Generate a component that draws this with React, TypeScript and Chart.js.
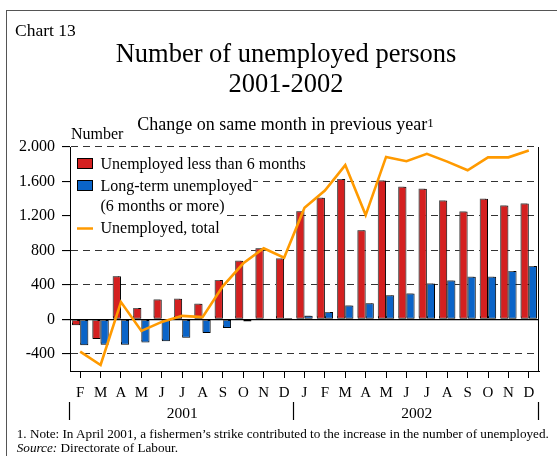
import React, { useEffect, useRef } from 'react';
import { Chart, registerables } from 'chart.js';

Chart.register(...registerables);

// ---------- data ----------
const months = ['F', 'M', 'A', 'M', 'J', 'J', 'A', 'S', 'O', 'N', 'D', 'J', 'F', 'M', 'A', 'M', 'J', 'J', 'A', 'S', 'O', 'N', 'D'];
const years = ['2001', '2002'];
const monthsPerYear = [11, 12];
const shortTerm = [-70, -230, 500, 130, 230, 240, 180, 455, 680, 825, 705, 1255, 1410, 1630, 1035, 1610, 1540, 1515, 1380, 1250, 1400, 1320, 1345];
const longTerm = [-300, -295, -295, -270, -255, -215, -160, -100, -25, 5, 15, 40, 85, 160, 185, 280, 300, 415, 450, 495, 495, 560, 620];
const totalUnemployed = [-375, -530, 200, -135, -30, 40, 25, 385, 650, 825, 715, 1295, 1495, 1790, 1210, 1885, 1835, 1920, 1830, 1730, 1880, 1880, 1960];
const yTickValues = [-400, 0, 400, 800, 1200, 1600, 2000];
const yMin = -600;
const yMax = 2000;
const seriesNames = ['Unemployed less than 6 months', 'Long-term unemployed\n(6 months or more)', 'Unemployed, total'];
const seriesColors = ['#D42020', '#0A64C8', '#FF9A00'];

const SERIF = '"Liberation Serif", "Times New Roman", serif';

function fmtThousands(v: number): string {
  const s = String(Math.abs(Math.round(v))).replace(/\B(?=(\d{3})+(?!\d))/g, '.');
  return (v < 0 ? '-' : '') + s;
}

const barShadow = {
  id: 'barShadow',
  beforeDatasetDraw(chart: any, args: any) {
    if (args.meta.type !== 'bar') return;
    const c = chart.ctx;
    c.save();
    c.shadowColor = 'rgba(110,110,110,0.9)';
    c.shadowOffsetX = -2;
    c.shadowOffsetY = -1.5;
    c.shadowBlur = 0;
  },
  afterDatasetDraw(chart: any, args: any) {
    if (args.meta.type !== 'bar') return;
    chart.ctx.restore();
  },
};

const decorations = {
  id: 'decorations',
  afterDatasetsDraw(chart: any) {
    const { ctx, chartArea } = chart;
    const { left, top, right, bottom } = chartArea;
    ctx.save();
    // right border of plot
    ctx.strokeStyle = '#000';
    ctx.lineWidth = 1;
    ctx.beginPath();
    ctx.moveTo(Math.round(right) - 0.5, top);
    ctx.lineTo(Math.round(right) - 0.5, bottom);
    ctx.stroke();

    // legend
    const font = `16px ${SERIF}`;
    ctx.font = font;
    ctx.textBaseline = 'alphabetic';
    ctx.textAlign = 'left';
    const textX = left + 30.5;
    let baseline = top + 22;
    chart.data.datasets.forEach((ds: any) => {
      const lines = String(ds.label).split('\n');
      lines.forEach((ln: string, j: number) => {
        const b = baseline + j * 19.5;
        const w = ctx.measureText(ln).width;
        ctx.fillStyle = '#fff';
        ctx.fillRect(left + 1, b - 17, textX - left - 1 + w + 1, 23.5);
      });
      if (ds.type === 'line') {
        ctx.strokeStyle = ds.borderColor;
        ctx.lineWidth = 2.5;
        ctx.beginPath();
        ctx.moveTo(left + 7, baseline - 4);
        ctx.lineTo(left + 23, baseline - 4);
        ctx.stroke();
      } else {
        ctx.fillStyle = ds.backgroundColor;
        ctx.fillRect(left + 7.5, baseline - 10.5, 15, 10);
        ctx.strokeStyle = '#000';
        ctx.lineWidth = 1;
        ctx.strokeRect(left + 7.5, baseline - 10.5, 15, 10);
      }
      ctx.fillStyle = '#000';
      lines.forEach((ln: string, j: number) => {
        ctx.fillText(ln, textX, baseline + j * 19.5);
      });
      baseline += (lines.length - 1) * 19.5 + 22;
    });

    // year labels + separators
    const xs = chart.scales.x;
    const step = xs.getPixelForValue(1) - xs.getPixelForValue(0);
    let startIdx = 0;
    const bounds: number[] = [xs.getPixelForValue(0) - step / 2];
    years.forEach((yr, k) => {
      const endIdx = startIdx + monthsPerYear[k] - 1;
      const x0 = xs.getPixelForValue(startIdx) - step / 2;
      const x1 = xs.getPixelForValue(endIdx) + step / 2;
      bounds.push(x1);
      ctx.fillStyle = '#000';
      ctx.font = `15.5px ${SERIF}`;
      ctx.textAlign = 'center';
      ctx.fillText(yr, (x0 + x1) / 2, bottom + 46.7);
      startIdx = endIdx + 1;
    });
    ctx.strokeStyle = '#000';
    ctx.lineWidth = 1.2;
    bounds.forEach((bx) => {
      ctx.beginPath();
      ctx.moveTo(Math.round(bx) - 0.5, bottom + 31);
      ctx.lineTo(Math.round(bx) - 0.5, bottom + 49);
      ctx.stroke();
    });
    ctx.restore();
  },
};

const textBase: React.CSSProperties = {
  position: 'absolute',
  fontFamily: SERIF,
  lineHeight: 1,
  whiteSpace: 'nowrap',
  color: '#000',
  margin: 0,
};

export default function App() {
  const canvasRef = useRef<HTMLCanvasElement | null>(null);

  useEffect(() => {
    if (!canvasRef.current) return;
    const chart = new Chart(canvasRef.current, {
      type: 'bar',
      data: {
        labels: months,
        datasets: [
          {
            type: 'bar',
            label: seriesNames[0],
            data: shortTerm,
            backgroundColor: seriesColors[0],
            borderColor: '#000',
            borderWidth: 1,
            borderSkipped: false,
            categoryPercentage: 0.8,
            barPercentage: 1.0,
            order: 1,
          },
          {
            type: 'bar',
            label: seriesNames[1],
            data: longTerm,
            backgroundColor: seriesColors[1],
            borderColor: '#000',
            borderWidth: 1,
            borderSkipped: false,
            categoryPercentage: 0.8,
            barPercentage: 1.0,
            order: 1,
          },
          {
            type: 'line',
            label: seriesNames[2],
            data: totalUnemployed,
            borderColor: seriesColors[2],
            backgroundColor: seriesColors[2],
            borderWidth: 2.6,
            pointRadius: 0,
            tension: 0,
            fill: false,
            order: 0,
          },
        ],
      } as any,
      options: {
        responsive: false,
        animation: false,
        layout: { padding: { left: 0, top: 147, right: 18, bottom: 0 } },
        plugins: {
          legend: { display: false },
          tooltip: { enabled: false },
          title: { display: false },
        },
        scales: {
          x: {
            type: 'category',
            offset: true,
            grid: {
              display: true,
              drawOnChartArea: false,
              drawTicks: true,
              tickLength: 7,
              offset: false,
              color: '#000',
              lineWidth: 1,
            },
            border: { display: true, color: '#000', width: 1 },
            ticks: {
              font: { family: SERIF, size: 15 },
              color: '#000',
              padding: 6,
              maxRotation: 0,
              minRotation: 0,
              autoSkip: false,
            },
            afterFit: (s: any) => {
              s.height = 85;
            },
          },
          y: {
            min: yMin,
            max: yMax,
            afterBuildTicks: (s: any) => {
              s.ticks = yTickValues.map((v) => ({ value: v }));
            },
            afterFit: (s: any) => {
              s.width = 70;
            },
            ticks: {
              callback: (v: any) => fmtThousands(Number(v)),
              font: { family: SERIF, size: 16 },
              color: '#000',
              padding: 7,
            },
            grid: {
              color: (c: any) => (c.tick && c.tick.value === 0 ? '#000' : '#333'),
              lineWidth: (c: any) => (c.tick && c.tick.value === 0 ? 1.2 : 1.1),
              drawTicks: true,
              tickLength: 8,
              tickColor: '#000',
            },
            border: {
              display: true,
              color: '#000',
              width: 1,
              dash: (c: any) => (c.tick && c.tick.value === 0 ? [] : [7, 5]),
            },
          },
        },
      } as any,
      plugins: [barShadow, decorations],
    });
    return () => chart.destroy();
  }, []);

  return (
    <div
      style={{
        position: 'fixed',
        left: 0,
        top: 0,
        width: 557,
        height: 456,
        overflow: 'hidden',
        background: '#fff',
      }}
    >
      <div
        style={{
          position: 'absolute',
          left: 6,
          top: 10,
          width: 700,
          height: 600,
          borderLeft: '1.5px solid #555',
          borderTop: '1.5px solid #555',
        }}
      />
      <canvas
        ref={canvasRef}
        width={557}
        height={456}
        style={{ position: 'absolute', left: 0, top: 0, width: 557, height: 456 }}
      />
      <div style={{ ...textBase, left: 15, top: 22.3, fontSize: 17.5 }}>Chart 13</div>
      <div style={{ ...textBase, left: 0, width: 572, textAlign: 'center', top: 39.8, fontSize: 26.5 }}>
        Number of unemployed persons
      </div>
      <div style={{ ...textBase, left: 0, width: 572, textAlign: 'center', top: 69.8, fontSize: 26.5 }}>
        2001-2002
      </div>
      <div style={{ ...textBase, left: 0, width: 571, textAlign: 'center', top: 115, fontSize: 18 }}>
        Change on same month in previous year
        <span style={{ fontSize: 13, verticalAlign: 3 }}>1</span>
      </div>
      <div style={{ ...textBase, left: 71, top: 125.6, fontSize: 16 }}>Number</div>
      <div style={{ ...textBase, left: 16.7, top: 426.6, fontSize: 13.2 }}>
        1. Note: In April 2001, a fishermen’s strike contributed to the increase in the number of unemployed.
      </div>
      <div style={{ ...textBase, left: 16.7, top: 440.9, fontSize: 13.2 }}>
        <i>Source:</i> Directorate of Labour.
      </div>
    </div>
  );
}
